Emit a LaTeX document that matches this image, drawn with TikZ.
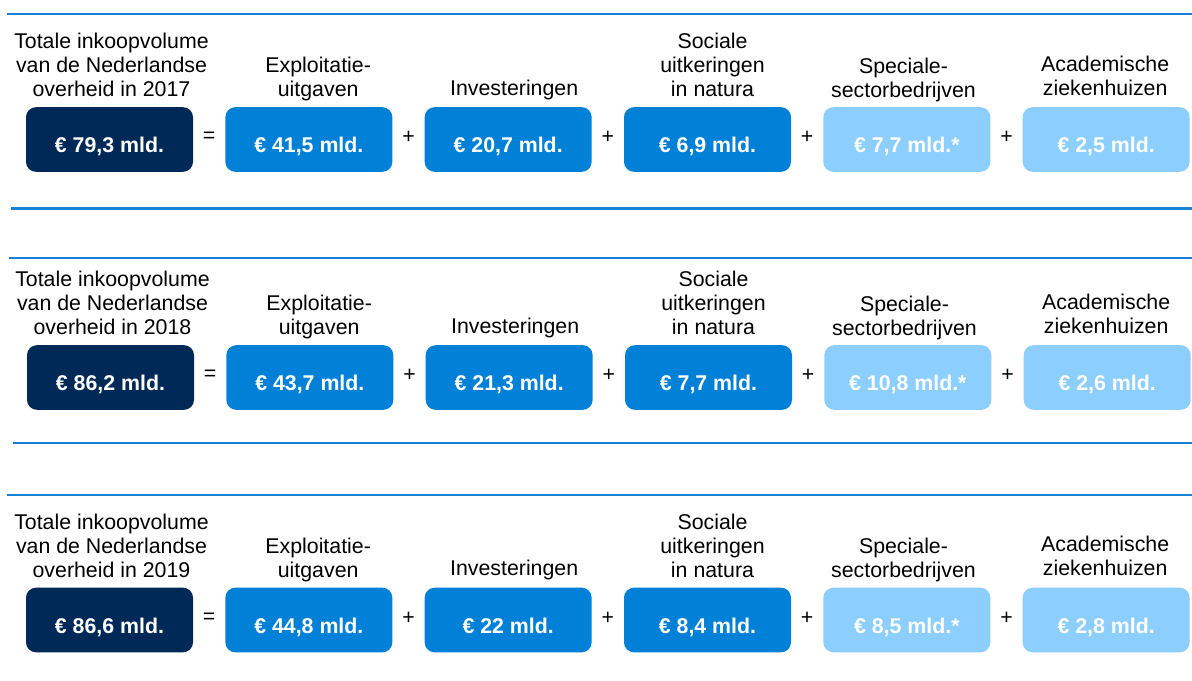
\documentclass[tikz,border=0pt]{standalone}
\usepackage{fontspec}
\setmainfont{Liberation Sans}
\usetikzlibrary{positioning}

\definecolor{navy}{HTML}{002957}
\definecolor{midblue}{HTML}{0080D6}
\definecolor{lightblue}{HTML}{8CCFFF}
\definecolor{rulecol}{HTML}{1A80D6}

\tikzstyle{amount} = [rectangle,rounded corners=7.5pt,minimum width=125.25pt,minimum height=48.5pt,inner sep=0pt,text=white,font=\fontsize{16pt}{18pt}\selectfont\bfseries,text height=20pt,text depth=0pt]
\tikzstyle{total} = [amount,fill=navy]
\tikzstyle{part} = [amount,fill=midblue]
\tikzstyle{minor} = [amount,fill=lightblue]
\tikzstyle{caption} = [align=center,inner sep=0pt,font=\fontsize{16pt}{18pt}\selectfont,execute at end node=\strut]
\tikzstyle{op} = [inner sep=0pt,font=\fontsize{16pt}{18pt}\selectfont,yshift=1.5pt,node distance=74.75pt]
\tikzstyle{separator} = [draw=rulecol,line width=1.5pt]

\begin{document}
\begin{tikzpicture}[x=0.75pt,y=-0.75pt,node distance=149.5pt]
	\useasboundingbox (0,0) rectangle (1192,681);
	% 2017
	\draw [separator] (7,14.5) -- (1192,14.5);
	\node (tot17) [total] at (109.5,139.5) {€ 79,3 mld.};
	\node (expl17) [part,right of=tot17] {€ 41,5 mld.};
	\node (inv17) [part,right of=expl17] {€ 20,7 mld.};
	\node (soc17) [part,right of=inv17] {€ 6,9 mld.};
	\node (spec17) [minor,right of=soc17] {€ 7,7 mld.*};
	\node (acad17) [minor,right of=spec17] {€ 2,5 mld.};
	\node (ctot17) [caption,above=2pt of tot17,xshift=1.5pt] {Totale inkoopvolume\\van de Nederlandse\\overheid in 2017};
	\node (cexpl17) [caption,above=2pt of expl17,xshift=7pt] {Exploitatie-\\uitgaven};
	\node (cinv17) [caption,above=3pt of inv17,xshift=4.5pt] {Investeringen};
	\node (csoc17) [caption,above=2pt of soc17,xshift=3.75pt] {Sociale\\uitkeringen\\in natura};
	\node (cspec17) [caption,above=1.5pt of spec17,xshift=-2.5pt] {Speciale-\\sectorbedrijven};
	\node (cacad17) [caption,above=3pt of acad17,xshift=-0.75pt] {Academische\\ziekenhuizen};
	\node (eq17) [op,right of=tot17] {=};
	\node (plusa17) [op,right of=expl17] {+};
	\node (plusb17) [op,right of=inv17] {+};
	\node (plusc17) [op,right of=soc17] {+};
	\node (plusd17) [op,right of=spec17] {+};
	\draw [separator] (11,208.5) -- (1192,208.5);

	% 2018
	\draw [separator] (9,257.5) -- (1192,257.5);
	\node (tot18) [total] at (110.5,377.5) {€ 86,2 mld.};
	\node (expl18) [part,right of=tot18] {€ 43,7 mld.};
	\node (inv18) [part,right of=expl18] {€ 21,3 mld.};
	\node (soc18) [part,right of=inv18] {€ 7,7 mld.};
	\node (spec18) [minor,right of=soc18] {€ 10,8 mld.*};
	\node (acad18) [minor,right of=spec18] {€ 2,6 mld.};
	\node (ctot18) [caption,above=2pt of tot18,xshift=1.5pt] {Totale inkoopvolume\\van de Nederlandse\\overheid in 2018};
	\node (cexpl18) [caption,above=2pt of expl18,xshift=7pt] {Exploitatie-\\uitgaven};
	\node (cinv18) [caption,above=3pt of inv18,xshift=4.5pt] {Investeringen};
	\node (csoc18) [caption,above=2pt of soc18,xshift=3.75pt] {Sociale\\uitkeringen\\in natura};
	\node (cspec18) [caption,above=1.5pt of spec18,xshift=-2.5pt] {Speciale-\\sectorbedrijven};
	\node (cacad18) [caption,above=3pt of acad18,xshift=-0.75pt] {Academische\\ziekenhuizen};
	\node (eq18) [op,right of=tot18] {=};
	\node (plusa18) [op,right of=expl18] {+};
	\node (plusb18) [op,right of=inv18] {+};
	\node (plusc18) [op,right of=soc18] {+};
	\node (plusd18) [op,right of=spec18] {+};
	\draw [separator] (13,443) -- (1192,443);

	% 2019
	\draw [separator] (7,495) -- (1192,495);
	\node (tot19) [total] at (109.5,620) {€ 86,6 mld.};
	\node (expl19) [part,right of=tot19] {€ 44,8 mld.};
	\node (inv19) [part,right of=expl19] {€ 22 mld.};
	\node (soc19) [part,right of=inv19] {€ 8,4 mld.};
	\node (spec19) [minor,right of=soc19] {€ 8,5 mld.*};
	\node (acad19) [minor,right of=spec19] {€ 2,8 mld.};
	\node (ctot19) [caption,above=2pt of tot19,xshift=1.5pt] {Totale inkoopvolume\\van de Nederlandse\\overheid in 2019};
	\node (cexpl19) [caption,above=2pt of expl19,xshift=7pt] {Exploitatie-\\uitgaven};
	\node (cinv19) [caption,above=3pt of inv19,xshift=4.5pt] {Investeringen};
	\node (csoc19) [caption,above=2pt of soc19,xshift=3.75pt] {Sociale\\uitkeringen\\in natura};
	\node (cspec19) [caption,above=1.5pt of spec19,xshift=-2.5pt] {Speciale-\\sectorbedrijven};
	\node (cacad19) [caption,above=3pt of acad19,xshift=-0.75pt] {Academische\\ziekenhuizen};
	\node (eq19) [op,right of=tot19] {=};
	\node (plusa19) [op,right of=expl19] {+};
	\node (plusb19) [op,right of=inv19] {+};
	\node (plusc19) [op,right of=soc19] {+};
	\node (plusd19) [op,right of=spec19] {+};
\end{tikzpicture}
\end{document}
